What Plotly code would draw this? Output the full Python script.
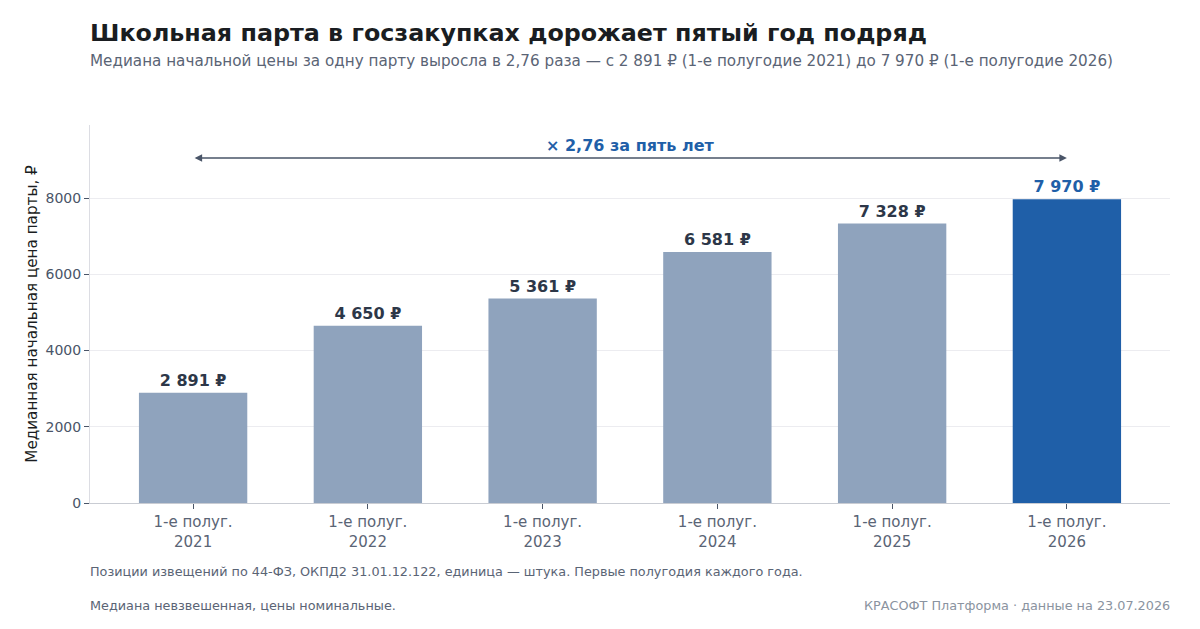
import plotly.graph_objects as go

# данные
years = ["2021", "2022", "2023", "2024", "2025", "2026"]
categories = ["1-е полуг.<br>" + y for y in years]
prices = [2891, 4650, 5361, 6581, 7328, 7970]
price_labels = ["2 891 ₽", "4 650 ₽", "5 361 ₽", "6 581 ₽", "7 328 ₽", "7 970 ₽"]
growth_label = "× 2,76 за пять лет"

FONT = "DejaVu Sans"
GREY_BAR = "#8fa3bd"
BLUE = "#1f5fa8"
DARK = "#2d3748"

bar_colors = [GREY_BAR] * (len(prices) - 1) + [BLUE]
text_colors = [DARK] * (len(prices) - 1) + [BLUE]

fig = go.Figure()
fig.add_trace(go.Bar(
    x=categories,
    y=prices,
    width=0.62,
    marker=dict(color=bar_colors, line=dict(width=0)),
    text=["<b>%s</b>" % t for t in price_labels],
    textposition="outside",
    textfont=dict(family=FONT, size=16, color=text_colors),
    cliponaxis=False,
    hoverinfo="skip",
))

ymax = max(prices) * 1.244

# стрелка роста
fig.add_annotation(
    x=categories[-1], y=max(prices) * 1.135, ax=categories[0], ay=max(prices) * 1.135,
    xref="x", yref="y", axref="x", ayref="y",
    showarrow=True, arrowhead=2, arrowsize=1, arrowwidth=1.5, arrowcolor="#4a5568",
    arrowside="end+start", text="",
)
fig.add_annotation(
    x=2.5, y=max(prices) * 1.175, xref="x", yref="y",
    text="<b>%s</b>" % growth_label, showarrow=False,
    font=dict(family=FONT, size=16, color=BLUE),
)

fig.update_layout(
    width=1200, height=629,
    paper_bgcolor="white", plot_bgcolor="white",
    margin=dict(l=82, r=38, t=117, b=134),
    font=dict(family=FONT, size=14, color="#4a5568"),
    title=dict(
        text="<b>Школьная парта в госзакупках дорожает пятый год подряд</b>",
        x=82 / 1200, xanchor="left", xref="container",
        y=1 - 25 / 629, yanchor="middle", yref="container",
        font=dict(family=FONT, size=23.8, color="#1a1d21"),
    ),
    showlegend=False,
)

# подзаголовок
fig.add_annotation(
    x=0, y=1.169, xref="paper", yref="paper", xanchor="left", yanchor="middle",
    xshift=-2, showarrow=False, align="left",
    text="Медиана начальной цены за одну парту выросла в 2,76 раза — с 2 891 ₽ (1-е полугодие 2021) до 7 970 ₽ (1-е полугодие 2026)",
    font=dict(family=FONT, size=15.2, color="#5a6475"),
)

fig.update_yaxes(
    range=[0, ymax], tickvals=[0, 2000, 4000, 6000, 8000],
    showgrid=True, gridcolor="#ececf0", gridwidth=1,
    showline=True, linecolor="#dcdde3", zeroline=False,
    ticks="outside", ticklen=5, tickcolor="#4a5568",
    tickfont=dict(family=FONT, size=14, color="#4a5568"),
    title=dict(text="Медианная начальная цена парты, ₽",
               font=dict(family=FONT, size=15.2, color="#1a1d21"), standoff=4),
)
fig.update_xaxes(
    range=[-0.59, 5.59],
    showline=True, linecolor="#c9ccd3",
    ticks="outside", ticklen=5, tickcolor="#4a5568",
    tickfont=dict(family=FONT, size=15, color="#5a6475"),
)

# подписи внизу
fig.add_annotation(
    x=0, y=-0.180, xref="paper", yref="paper", xanchor="left", yanchor="middle",
    xshift=-2, showarrow=False, align="left",
    text="Позиции извещений по 44-ФЗ, ОКПД2 31.01.12.122, единица — штука. Первые полугодия каждого года.",
    font=dict(family=FONT, size=12.8, color="#5a6475"),
)
fig.add_annotation(
    x=0, y=-0.270, xref="paper", yref="paper", xanchor="left", yanchor="middle",
    xshift=-2, showarrow=False, align="left",
    text="Медиана невзвешенная, цены номинальные.",
    font=dict(family=FONT, size=12.8, color="#5a6475"),
)
fig.add_annotation(
    x=1, y=-0.270, xref="paper", yref="paper", xanchor="right", yanchor="middle",
    xshift=2, showarrow=False, align="right",
    text="КРАСОФТ Платформа · данные на 23.07.2026",
    font=dict(family=FONT, size=12.8, color="#8a93a0"),
)

fig.write_html("out.html")
